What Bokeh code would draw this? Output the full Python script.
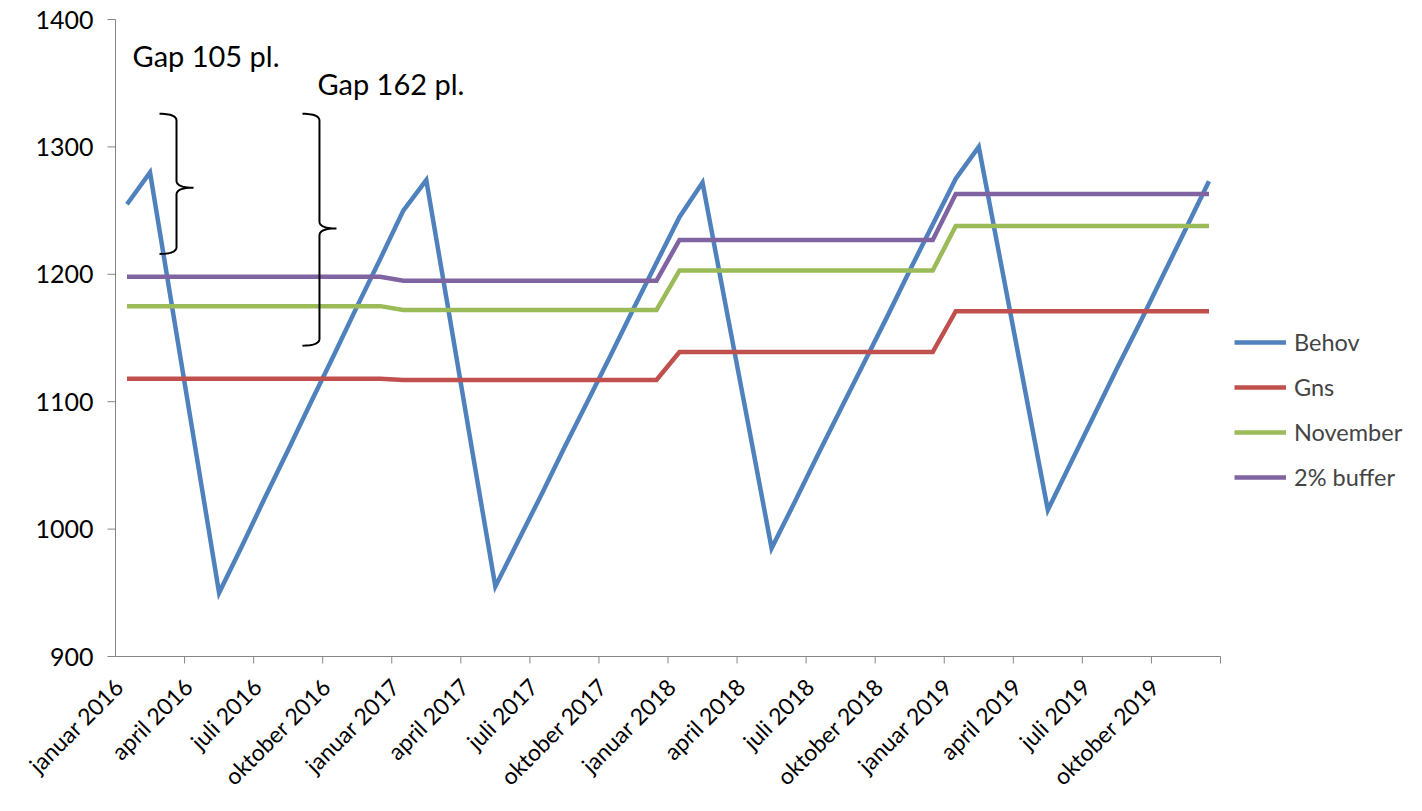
import math
import numpy as np
from bokeh.plotting import figure
from bokeh.models import Range1d, Legend, LegendItem, Label, ColumnDataSource
from bokeh.core.properties import value
from bokeh.embed import file_html
from bokeh.resources import INLINE

# ---------------- data ----------------
month_names = ["januar", "februar", "marts", "april", "maj", "juni", "juli",
               "august", "september", "oktober", "november", "december"]
years = [2016, 2017, 2018, 2019]
months = [f"{m} {y}" for y in years for m in month_names]

behov = [1255, 1280, 1170, 1060, 950, 987, 1025, 1062, 1100, 1137, 1175, 1212,
         1250, 1274, 1168, 1061, 955, 991, 1027, 1064, 1100, 1136, 1173, 1209,
         1245, 1272, 1176, 1081, 985, 1021, 1058, 1094, 1130, 1166, 1203, 1239,
         1275, 1300, 1205, 1110, 1015, 1052, 1089, 1126, 1162, 1199, 1236, 1273]
gns = [1118] * 12 + [1117] * 12 + [1139] * 12 + [1171] * 12
november = [1175] * 12 + [1172] * 12 + [1203] * 12 + [1238] * 12
buffer2 = [1198] * 12 + [1195] * 12 + [1227] * 12 + [1263] * 12

series_names = ["Behov", "Gns", "November", "2% buffer"]
series_values = [behov, gns, november, buffer2]
series_colors = ["#4F81BD", "#C0504D", "#9BBB59", "#8064A2"]

y_ticks = [900, 1000, 1100, 1200, 1300, 1400]
gap_texts = ["Gap 105 pl.", "Gap 162 pl."]

# ---------------- layout constants ----------------
FONT = "Lato"
AXIS_COLOR = "#868686"
n = len(months)
x = list(range(n))
Y0, Y1 = 900, 1400

W, H = 1406, 795
LEFT, TOP = 115, 19      # position of the value area inside the canvas
PLOT_W = 1105            # pixels for the 48 months
PLOT_H = 637             # pixels for 900..1400
PX_X = PLOT_W / n
PX_Y = PLOT_H / (Y1 - Y0)

x_start = -0.5 - LEFT / PX_X
x_end = x_start + W / PX_X
y_end = Y1 + TOP / PX_Y
y_start = y_end - H / PX_Y

p = figure(width=W, height=H, output_backend="svg", toolbar_location=None,
           x_range=Range1d(x_start, x_end), y_range=Range1d(y_start, y_end),
           x_axis_location=None, y_axis_location=None,
           min_border_left=0, min_border_right=0,
           min_border_top=0, min_border_bottom=0)
p.outline_line_color = None
p.xgrid.visible = False
p.ygrid.visible = False
p.background_fill_color = "white"
p.border_fill_color = "white"

# ---------------- value axis ----------------
XL = -0.5
p.segment(x0=[XL], x1=[XL], y0=[Y0], y1=[Y1], line_color=AXIS_COLOR, line_width=1)
p.segment(x0=[XL - 8 / PX_X] * len(y_ticks), x1=[XL] * len(y_ticks),
          y0=y_ticks, y1=y_ticks, line_color=AXIS_COLOR, line_width=1)
p.text(x=[XL - 22 / PX_X] * len(y_ticks), y=y_ticks,
       text=[str(t) for t in y_ticks], text_align="right",
       text_baseline="middle", text_font=value(FONT), text_font_size="25px",
       text_color="black")

# ---------------- category axis ----------------
p.segment(x0=[-0.5], x1=[n - 0.5], y0=[Y0], y1=[Y0],
          line_color=AXIS_COLOR, line_width=1)
tick_x = [i - 0.5 for i in range(3, n + 1, 3)]
p.segment(x0=tick_x, x1=tick_x, y0=[Y0] * len(tick_x),
          y1=[Y0 - 7 / PX_Y] * len(tick_x), line_color=AXIS_COLOR, line_width=1)
label_idx = list(range(0, n, 3))
p.text(x=[i - 18 / PX_X for i in label_idx],
       y=[Y0 - 16 / PX_Y] * len(label_idx),
       text=[months[i] for i in label_idx],
       angle=math.pi / 4, text_align="right", text_baseline="top",
       text_font=value(FONT), text_font_size="23px", text_color="black")

# ---------------- series ----------------
renderers = []
for name, vals, col in zip(series_names, series_values, series_colors):
    src = ColumnDataSource(dict(x=x, y=vals))
    r = p.line("x", "y", source=src, line_color=col, line_width=4.5,
               line_join="miter")
    renderers.append(r)

legend = Legend(items=[LegendItem(label=nm, renderers=[r])
                       for nm, r in zip(series_names, renderers)],
                location=(1234, H - 491), orientation="vertical",
                label_text_font=FONT, label_text_font_size="23.5px",
                glyph_width=52, glyph_height=20, label_standoff=8,
                spacing=17, padding=0, margin=0,
                border_line_color=None, background_fill_alpha=0)
p.add_layout(legend, "center")

# ---------------- annotations: braces and texts ----------------
def qbez(p0, p1, p2, k=14):
    t = np.linspace(0, 1, k)
    xs = (1 - t) ** 2 * p0[0] + 2 * (1 - t) * t * p1[0] + t ** 2 * p2[0]
    ys = (1 - t) ** 2 * p0[1] + 2 * (1 - t) * t * p1[1] + t ** 2 * p2[1]
    return list(xs), list(ys)


def brace(xc, top, mid, bot, hook=17, tip=17, r=7):
    hx = hook / PX_X
    tx = tip / PX_X
    ry = r / PX_Y
    xs, ys = [], []
    for seg in [qbez((xc - hx, top), (xc, top), (xc, top - ry)),
                qbez((xc, mid + ry), (xc, mid), (xc + tx, mid)),
                qbez((xc + tx, mid), (xc, mid), (xc, mid - ry)),
                qbez((xc, bot + ry), (xc, bot), (xc - hx, bot))]:
        xs += seg[0]
        ys += seg[1]
    p.line(xs, ys, line_color="black", line_width=2)


brace(2.15, 1326, 1268, 1216)
brace(8.36, 1326, 1236, 1144)

p.add_layout(Label(x=0.24, y=1372, text=gap_texts[0], text_font=FONT,
                   text_font_size="29px", text_color="black",
                   text_baseline="alphabetic"))
p.add_layout(Label(x=8.27, y=1350, text=gap_texts[1], text_font=FONT,
                   text_font_size="29px", text_color="black",
                   text_baseline="alphabetic"))

open("out.html", "w").write(file_html(p, INLINE))
